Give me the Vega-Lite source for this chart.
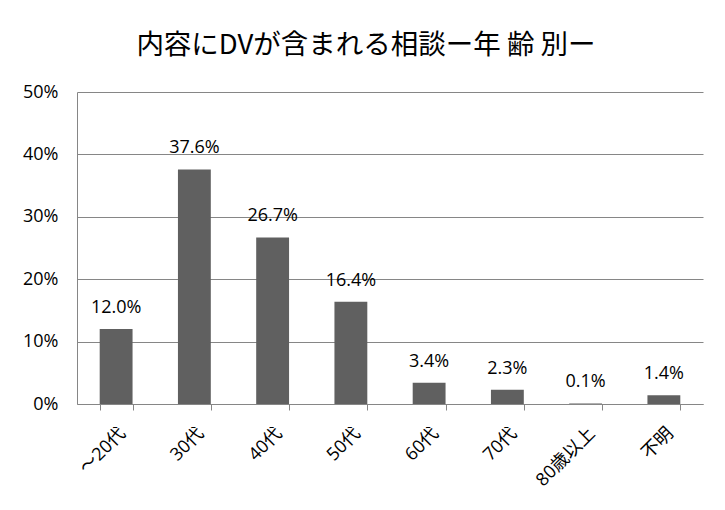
{
  "$schema": "https://vega.github.io/schema/vega-lite/v6.json",
  "autosize": {"type": "none"},
  "width": 626,
  "height": 312,
  "padding": {"left": 77, "top": 92, "right": 22, "bottom": 106},
  "background": "white",
  "title": {
    "text": "内容にDVが含まれる相談ー年 齢 別ー",
    "font": "Noto Sans CJK JP",
    "fontSize": 27.5,
    "fontWeight": "normal",
    "color": "#000000",
    "anchor": "middle",
    "dx": -24,
    "offset": 24
  },
  "data": {
    "values": [
      {"age": "～20代", "rate": 0.120},
      {"age": "30代", "rate": 0.376},
      {"age": "40代", "rate": 0.267},
      {"age": "50代", "rate": 0.164},
      {"age": "60代", "rate": 0.034},
      {"age": "70代", "rate": 0.023},
      {"age": "80歳以上", "rate": 0.001},
      {"age": "不明", "rate": 0.014}
    ]
  },
  "encoding": {
    "x": {
      "field": "age",
      "type": "nominal",
      "sort": null,
      "scale": {"paddingInner": 0.58, "paddingOuter": 0.29},
      "axis": {
        "title": null,
        "labelAngle": -45,
        "labelFont": "Open Sans, Noto Sans CJK JP",
        "labelFontSize": 18,
        "labelColor": "#000000",
        "tickBand": "extent",
        "tickSize": 6,
        "tickColor": "#868686",
        "domainColor": "#868686",
        "labelPadding": 14
      }
    },
    "y": {
      "field": "rate",
      "type": "quantitative",
      "scale": {"domain": [0, 0.5], "nice": false},
      "axis": {
        "title": null,
        "format": ".0%",
        "values": [0, 0.1, 0.2, 0.3, 0.4, 0.5],
        "ticks": false,
        "labelPadding": 19,
        "labelFont": "Open Sans",
        "labelFontSize": 18,
        "labelColor": "#000000",
        "domainColor": "#868686",
        "gridColor": "#868686",
        "gridOpacity": 1
      }
    }
  },
  "layer": [
    {"mark": {"type": "bar", "color": "#606060"}},
    {
      "mark": {"type": "text", "baseline": "alphabetic", "dy": -16, "font": "Open Sans", "fontSize": 18, "color": "#000000"},
      "encoding": {"text": {"field": "rate", "format": ".1%"}}
    }
  ],
  "config": {"view": {"stroke": null}}
}
